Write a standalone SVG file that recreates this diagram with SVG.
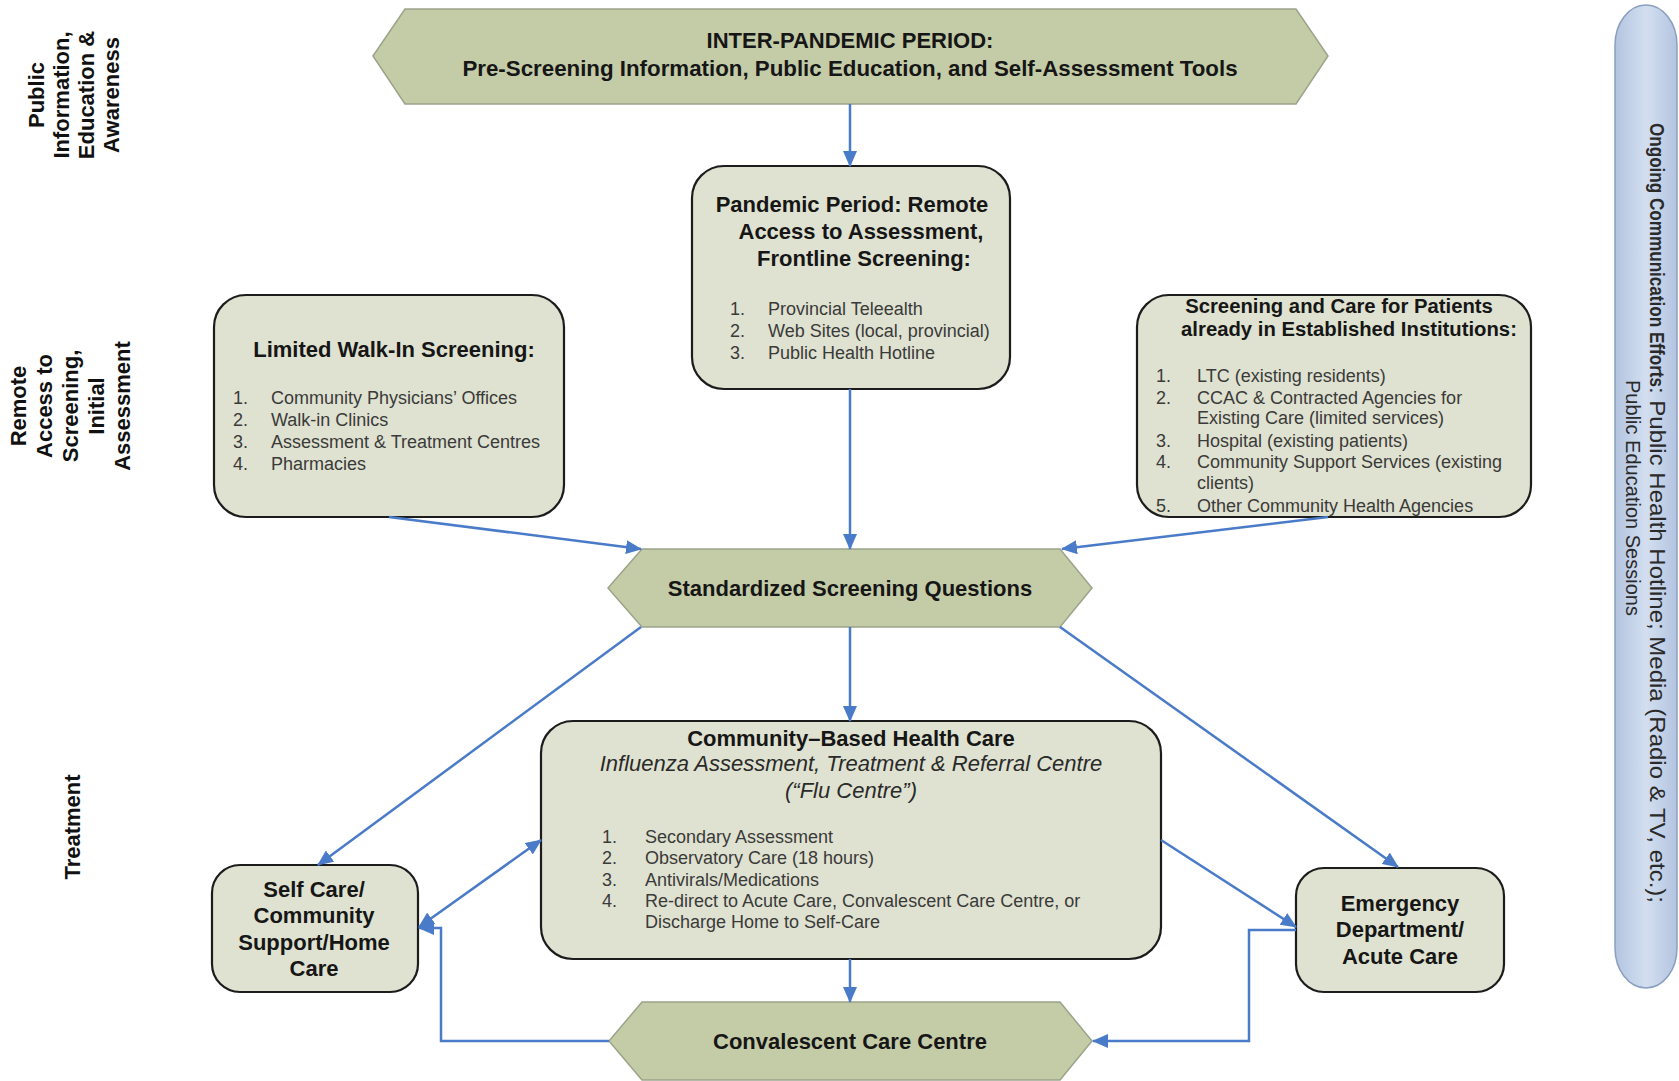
<svg xmlns="http://www.w3.org/2000/svg" width="1679" height="1081" viewBox="0 0 1679 1081">
<style>
text{font-family:"Liberation Sans",Arial,sans-serif}
.hex{fill:#c4cba7;stroke:#9ba48a;stroke-width:1.5}
.box{fill:#dfe2d0;stroke:#1c1c1c;stroke-width:2.2}
.h{font-size:22px;font-weight:bold;fill:#161616}
.hs{font-size:20.3px;font-weight:bold;fill:#161616}
.li{font-size:18px;fill:#3a3a3a}
.it{font-size:22px;font-style:italic;fill:#2a2a2a}
.lab{font-size:22px;font-weight:bold;fill:#111;text-anchor:middle}
.c{text-anchor:middle}
.con{fill:none;stroke:#4a7bc8;stroke-width:2.5}
.pill{font-size:21px;fill:#2a2a2a}
</style>
<defs>
<marker id="ah" viewBox="0 0 16 14" refX="15" refY="7" markerWidth="16" markerHeight="14" markerUnits="userSpaceOnUse" orient="auto-start-reverse"><path d="M0,0 L16,7 L0,14 z" fill="#4a7bc8"/></marker>
<linearGradient id="pg" x1="0" y1="0" x2="1" y2="0"><stop offset="0" stop-color="#b3c4e0"/><stop offset="0.5" stop-color="#d3dff0"/><stop offset="1" stop-color="#b3c4e0"/></linearGradient>
</defs>
<rect width="1679" height="1081" fill="#ffffff"/>

<g id="side-labels">
<g transform="translate(0,95)">
<text class="lab" transform="translate(44,0) rotate(-90)">Public</text>
<text class="lab" transform="translate(69,0) rotate(-90)">Information,</text>
<text class="lab" transform="translate(94,0) rotate(-90)">Education &amp;</text>
<text class="lab" transform="translate(119,0) rotate(-90)">Awareness</text>
</g>
<g transform="translate(0,406)">
<text class="lab" transform="translate(26,0) rotate(-90)">Remote</text>
<text class="lab" transform="translate(52,0) rotate(-90)">Access to</text>
<text class="lab" transform="translate(78,0) rotate(-90)">Screening,</text>
<text class="lab" transform="translate(104,0) rotate(-90)">Initial</text>
<text class="lab" transform="translate(130,0) rotate(-90)">Assessment</text>
</g>
<text class="lab" transform="translate(80,827) rotate(-90)">Treatment</text>
</g>

<g id="ongoing">
<rect x="1615" y="5" width="62" height="983" rx="31" ry="40" fill="url(#pg)" stroke="#8a9fc0" stroke-width="1.5"/>
<text class="pill" font-weight="bold" transform="translate(1650,123) rotate(90)" textLength="264" lengthAdjust="spacingAndGlyphs">Ongoing Communication Efforts</text>
<text class="pill" style="font-size:22px" transform="translate(1650,387) rotate(90)" textLength="516" lengthAdjust="spacingAndGlyphs">: Public Health Hotline; Media (Radio &amp; TV, etc.);</text>
<text class="pill" transform="translate(1626,380) rotate(90)" textLength="236" lengthAdjust="spacingAndGlyphs">Public Education Sessions</text>
</g>

<g id="inter-pandemic">
<polygon class="hex" points="373,56 405,9 1296,9 1328,56 1296,104 405,104"/>
<text class="h c" x="850" y="48">INTER-PANDEMIC PERIOD:</text>
<text class="h c" x="850" y="76" style="font-size:22.3px">Pre-Screening Information, Public Education, and Self-Assessment Tools</text>
</g>

<g id="pandemic">
<rect class="box" x="692" y="166" width="318" height="223" rx="32"/>
<text class="h c" x="852" y="212">Pandemic Period: Remote</text>
<text class="h c" x="861" y="239">Access to Assessment,</text>
<text class="h c" x="864" y="266">Frontline Screening:</text>
<text class="li" x="730" y="314.5">1.</text><text class="li" x="768" y="314.5">Provincial Teleealth</text>
<text class="li" x="730" y="337">2.</text><text class="li" x="768" y="337">Web Sites (local, provincial)</text>
<text class="li" x="730" y="358.5">3.</text><text class="li" x="768" y="358.5">Public Health Hotline</text>
</g>

<g id="walk-in">
<rect class="box" x="214" y="295" width="350" height="222" rx="32"/>
<text class="h c" x="394" y="357">Limited Walk-In Screening:</text>
<text class="li" x="233" y="403.5">1.</text><text class="li" x="271" y="403.5">Community Physicians’ Offices</text>
<text class="li" x="233" y="426">2.</text><text class="li" x="271" y="426">Walk-in Clinics</text>
<text class="li" x="233" y="447.5">3.</text><text class="li" x="271" y="447.5">Assessment &amp; Treatment Centres</text>
<text class="li" x="233" y="470">4.</text><text class="li" x="271" y="470">Pharmacies</text>
</g>

<g id="institutions">
<rect class="box" x="1137" y="295" width="394" height="222" rx="32"/>
<text class="hs c" x="1339" y="312.5">Screening and Care for Patients</text>
<text class="hs c" x="1349" y="336">already in Established Institutions:</text>
<text class="li" x="1156" y="382">1.</text><text class="li" x="1197" y="382">LTC (existing residents)</text>
<text class="li" x="1156" y="403.5">2.</text><text class="li" x="1197" y="403.5">CCAC &amp; Contracted Agencies for</text>
<text class="li" x="1197" y="424">Existing Care (limited services)</text>
<text class="li" x="1156" y="446.5">3.</text><text class="li" x="1197" y="446.5">Hospital (existing patients)</text>
<text class="li" x="1156" y="468">4.</text><text class="li" x="1197" y="468">Community Support Services (existing</text>
<text class="li" x="1197" y="489">clients)</text>
<text class="li" x="1156" y="511.5">5.</text><text class="li" x="1197" y="511.5">Other Community Health Agencies</text>
</g>

<g id="standardized">
<polygon class="hex" points="608,588 642,549 1060,549 1092,588 1060,627 642,627"/>
<text class="h c" x="850" y="595.5">Standardized Screening Questions</text>
</g>

<g id="community">
<rect class="box" x="541" y="721" width="620" height="238" rx="32"/>
<text class="h c" x="851" y="745.5">Community–Based Health Care</text>
<text class="it c" x="851" y="771">Influenza Assessment, Treatment &amp; Referral Centre</text>
<text class="it c" x="851" y="798">(“Flu Centre”)</text>
<text class="li" x="602" y="842.5">1.</text><text class="li" x="645" y="842.5">Secondary Assessment</text>
<text class="li" x="602" y="864">2.</text><text class="li" x="645" y="864">Observatory Care (18 hours)</text>
<text class="li" x="602" y="885.5">3.</text><text class="li" x="645" y="885.5">Antivirals/Medications</text>
<text class="li" x="602" y="907">4.</text><text class="li" x="645" y="907">Re-direct to Acute Care, Convalescent Care Centre, or</text>
<text class="li" x="645" y="928">Discharge Home to Self-Care</text>
</g>

<g id="self-care">
<rect class="box" x="212" y="865" width="206" height="127" rx="28"/>
<text class="h c" x="314" y="896.5">Self Care/</text>
<text class="h c" x="314" y="923">Community</text>
<text class="h c" x="314" y="950">Support/Home</text>
<text class="h c" x="314" y="975.5">Care</text>
</g>

<g id="emergency">
<rect class="box" x="1296" y="868" width="208" height="124" rx="28"/>
<text class="h c" x="1400" y="910.5">Emergency</text>
<text class="h c" x="1400" y="937">Department/</text>
<text class="h c" x="1400" y="964">Acute Care</text>
</g>

<g id="convalescent">
<polygon class="hex" points="609,1041 642,1002 1060,1002 1092,1041 1060,1080 642,1080"/>
<text class="h c" x="850" y="1048.5">Convalescent Care Centre</text>
</g>

<g id="connectors">
<path class="con" marker-end="url(#ah)" d="M850,104 V166"/>
<path class="con" marker-end="url(#ah)" d="M850,389 V549"/>
<path class="con" marker-end="url(#ah)" d="M389,517 L641,549"/>
<path class="con" marker-end="url(#ah)" d="M1328,517 L1062,549"/>
<path class="con" marker-end="url(#ah)" d="M850,627 V721"/>
<path class="con" marker-end="url(#ah)" d="M641,627 L318,865"/>
<path class="con" marker-end="url(#ah)" d="M1060,627 L1398,867"/>
<path class="con" marker-start="url(#ah)" marker-end="url(#ah)" d="M419,927 L541,840"/>
<path class="con" marker-end="url(#ah)" d="M1161,840 L1296,927"/>
<path class="con" marker-end="url(#ah)" d="M850,959 V1002"/>
<path class="con" marker-end="url(#ah)" d="M609,1041 H441 V928 H419"/>
<path class="con" marker-end="url(#ah)" d="M1296,930 H1249 V1041 H1093"/>
</g>
</svg>
